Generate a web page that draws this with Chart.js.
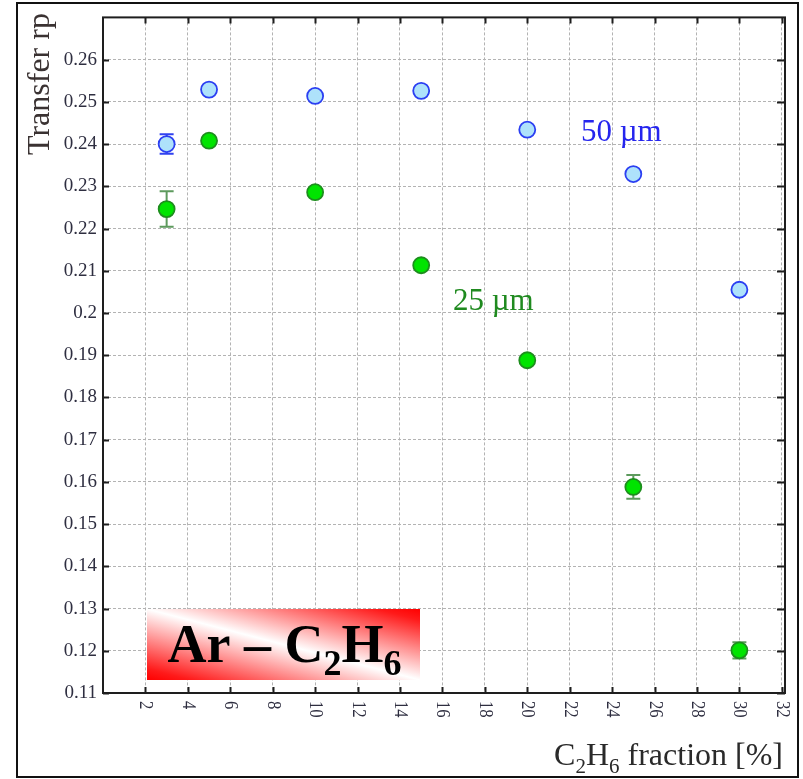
<!DOCTYPE html>
<html>
<head>
<meta charset="utf-8">
<script src="https://cdn.jsdelivr.net/npm/chart.js@4/dist/chart.umd.min.js"></script>
<style>
  html, body { margin: 0; padding: 0; background: #ffffff; }
  canvas { display: block; }
</style>
</head>
<body>
<canvas id="chart" width="803" height="779"></canvas>
<script>
// C2H6 fraction in the Ar–C2H6 mixture [%]
const fractions = [3, 5, 10, 15, 20, 25, 30];

// Transfer rp, 50 µm
const transfer50 = [0.2400, 0.2529, 0.2514, 0.2526, 0.2434, 0.2329, 0.2055];
const error50 = [0.0023, 0, 0, 0, 0, 0, 0];

// Transfer rp, 25 µm
const transfer25 = [0.2246, 0.2408, 0.2286, 0.2113, 0.1888, 0.1588, 0.1201];
const error25 = [0.0042, 0, 0, 0, 0, 0.0028, 0.0019];

// Axis ticks
const xTickValues = [2, 4, 6, 8, 10, 12, 14, 16, 18, 20, 22, 24, 26, 28, 30, 32];
const yTickValues = [0.11, 0.12, 0.13, 0.14, 0.15, 0.16, 0.17, 0.18, 0.19, 0.2,
                     0.21, 0.22, 0.23, 0.24, 0.25, 0.26];

const SERIF = "'Liberation Serif', 'Times New Roman', serif";

const toPoints = (ys, errs) => fractions.map((x, i) => ({ x: x, y: ys[i], err: errs[i] }));

// Vertical error bars with caps, drawn under the markers
const errorBars = {
  id: 'errorBars',
  beforeDatasetsDraw(chart) {
    const ctx = chart.ctx;
    const xs = chart.scales.x, ys = chart.scales.y;
    chart.data.datasets.forEach(ds => {
      ctx.save();
      ctx.strokeStyle = ds.errorColor;
      ctx.lineWidth = 2;
      ds.data.forEach(p => {
        if (!p.err) return;
        const px = xs.getPixelForValue(p.x);
        const top = ys.getPixelForValue(p.y + p.err);
        const bot = ys.getPixelForValue(p.y - p.err);
        ctx.beginPath();
        ctx.moveTo(px, top); ctx.lineTo(px, bot);
        ctx.moveTo(px - 7, top); ctx.lineTo(px + 7, top);
        ctx.moveTo(px - 7, bot); ctx.lineTo(px + 7, bot);
        ctx.stroke();
      });
      ctx.restore();
    });
  }
};

// Text with a chemical formula: parts of [text, isSubscript]
function formulaWidth(ctx, parts, font, subFont) {
  let w = 0;
  parts.forEach(([t, sub]) => { ctx.font = sub ? subFont : font; w += ctx.measureText(t).width; });
  return w;
}
function drawFormula(ctx, parts, x, y, font, subFont, subShift) {
  let cx = x;
  parts.forEach(([t, sub]) => {
    ctx.font = sub ? subFont : font;
    ctx.fillText(t, cx, sub ? y + subShift : y);
    cx += ctx.measureText(t).width;
  });
}

// Gas mixture label box: red corners fading to a white diagonal band
const mixtureLabel = {
  id: 'mixtureLabel',
  beforeDatasetsDraw(chart) {
    const ctx = chart.ctx;
    const bx = 147, by = 609, bw = 273, bh = 71;
    const cx = bx + bw / 2, cy = by + bh / 2;
    const d = Math.hypot(bw, bh);
    const nx = bh / d, ny = -bw / d;
    const half = bw * bh / d;
    ctx.save();
    const g = ctx.createLinearGradient(cx - nx * half, cy - ny * half, cx + nx * half, cy + ny * half);
    g.addColorStop(0, '#ff0000');
    g.addColorStop(0.08, '#ff1a1a');
    g.addColorStop(0.5, '#ffffff');
    g.addColorStop(0.92, '#ff1a1a');
    g.addColorStop(1, '#ff0000');
    ctx.fillStyle = g;
    ctx.fillRect(bx, by, bw, bh);
    const font = 'bold 54px ' + SERIF, subFont = 'bold 36px ' + SERIF;
    const parts = [['Ar \u2013 C', false], ['2', true], ['H', false], ['6', true]];
    const w = formulaWidth(ctx, parts, font, subFont);
    ctx.fillStyle = '#000000';
    ctx.textBaseline = 'alphabetic';
    drawFormula(ctx, parts, cx - w / 2 + 1, 662, font, subFont, 13);
    ctx.restore();
  }
};

// Frame, inward tick marks, rotated x labels, titles and annotations
const decorations = {
  id: 'decorations',
  afterDraw(chart) {
    const ctx = chart.ctx;
    const ca = chart.chartArea;
    const xs = chart.scales.x, ys = chart.scales.y;
    ctx.save();

    // plot frame
    ctx.strokeStyle = '#1e1e1e';
    ctx.lineWidth = 2;
    ctx.strokeRect(ca.left, ca.top, ca.right - ca.left, ca.bottom - ca.top);

    // inward tick marks on all four sides
    ctx.beginPath();
    xTickValues.forEach(v => {
      const px = Math.round(xs.getPixelForValue(v)) + 0.5;
      ctx.moveTo(px, ca.bottom); ctx.lineTo(px, ca.bottom - 6);
      ctx.moveTo(px, ca.top); ctx.lineTo(px, ca.top + 6);
    });
    yTickValues.forEach(v => {
      const py = Math.round(ys.getPixelForValue(v)) + 0.5;
      ctx.moveTo(ca.left, py); ctx.lineTo(ca.left + 6, py);
      ctx.moveTo(ca.right, py); ctx.lineTo(ca.right - 8, py);
    });
    ctx.stroke();

    // x tick labels, turned clockwise
    ctx.fillStyle = '#2e2e40';
    ctx.font = '19px ' + SERIF;
    ctx.textAlign = 'left';
    ctx.textBaseline = 'middle';
    xTickValues.forEach(v => {
      const px = xs.getPixelForValue(v);
      ctx.save();
      ctx.translate(px, ca.bottom + 8);
      ctx.rotate(Math.PI / 2);
      ctx.scale(0.88, 1);
      ctx.fillText(String(v), 0, 0);
      ctx.restore();
    });

    // y axis title
    ctx.save();
    ctx.fillStyle = '#3a3232';
    ctx.font = '32px ' + SERIF;
    ctx.textAlign = 'left';
    ctx.textBaseline = 'alphabetic';
    ctx.translate(49, 155);
    ctx.rotate(-Math.PI / 2);
    ctx.fillText('Transfer rp', 0, 0);
    ctx.restore();

    // x axis title
    ctx.fillStyle = '#2a2a2a';
    ctx.textAlign = 'left';
    ctx.textBaseline = 'alphabetic';
    const tFont = '32px ' + SERIF, tSub = '21px ' + SERIF;
    const tParts = [['C', false], ['2', true], ['H', false], ['6', true], [' fraction [%]', false]];
    const tw = formulaWidth(ctx, tParts, tFont, tSub);
    drawFormula(ctx, tParts, 783 - tw, 765, tFont, tSub, 8);

    // series annotations
    ctx.font = '31px ' + SERIF;
    ctx.fillStyle = '#2525ee';
    ctx.fillText('50 \u00b5m', 581, 141);
    ctx.fillStyle = '#1f8a1f';
    ctx.fillText('25 \u00b5m', 453, 310);

    // outer border
    ctx.strokeStyle = '#111111';
    ctx.lineWidth = 2;
    ctx.strokeRect(17, 3, 781, 774);
    ctx.restore();
  }
};

new Chart(document.getElementById('chart'), {
  type: 'scatter',
  data: {
    datasets: [
      {
        label: '50 \u00b5m',
        data: toPoints(transfer50, error50),
        pointRadius: 8,
        pointHoverRadius: 8,
        pointBorderWidth: 1.8,
        backgroundColor: '#aee2fb',
        borderColor: '#2b3ff2',
        errorColor: '#3142f0'
      },
      {
        label: '25 \u00b5m',
        data: toPoints(transfer25, error25),
        pointRadius: 8,
        pointHoverRadius: 8,
        pointBorderWidth: 1.8,
        backgroundColor: '#00e400',
        borderColor: '#1d8e1d',
        errorColor: '#5d9a5d'
      }
    ]
  },
  options: {
    responsive: false,
    animation: false,
    events: [],
    layout: { padding: { top: 14, right: 18, left: 0, bottom: 0 } },
    plugins: { legend: { display: false }, tooltip: { enabled: false } },
    scales: {
      x: {
        type: 'linear',
        position: 'bottom',
        min: 0,
        max: 32.15,
        afterFit(s) { s.height = 86; },
        afterBuildTicks(s) { s.ticks = xTickValues.map(v => ({ value: v })); },
        ticks: { display: false },
        grid: { color: '#b3b3b3', lineWidth: 1, drawTicks: false },
        border: { display: false, dash: [3, 2] }
      },
      y: {
        type: 'linear',
        min: 0.11,
        max: 0.27,
        afterFit(s) { s.width = 103; },
        afterBuildTicks(s) { s.ticks = yTickValues.map(v => ({ value: v })); },
        ticks: {
          padding: 6,
          color: '#2e2e40',
          font: { family: SERIF, size: 19 },
          callback: v => String(Number(v.toFixed(2)))
        },
        grid: { color: '#b3b3b3', lineWidth: 1, drawTicks: false },
        border: { display: false, dash: [3, 2] }
      }
    }
  },
  plugins: [errorBars, mixtureLabel, decorations]
});
</script>
</body>
</html>
